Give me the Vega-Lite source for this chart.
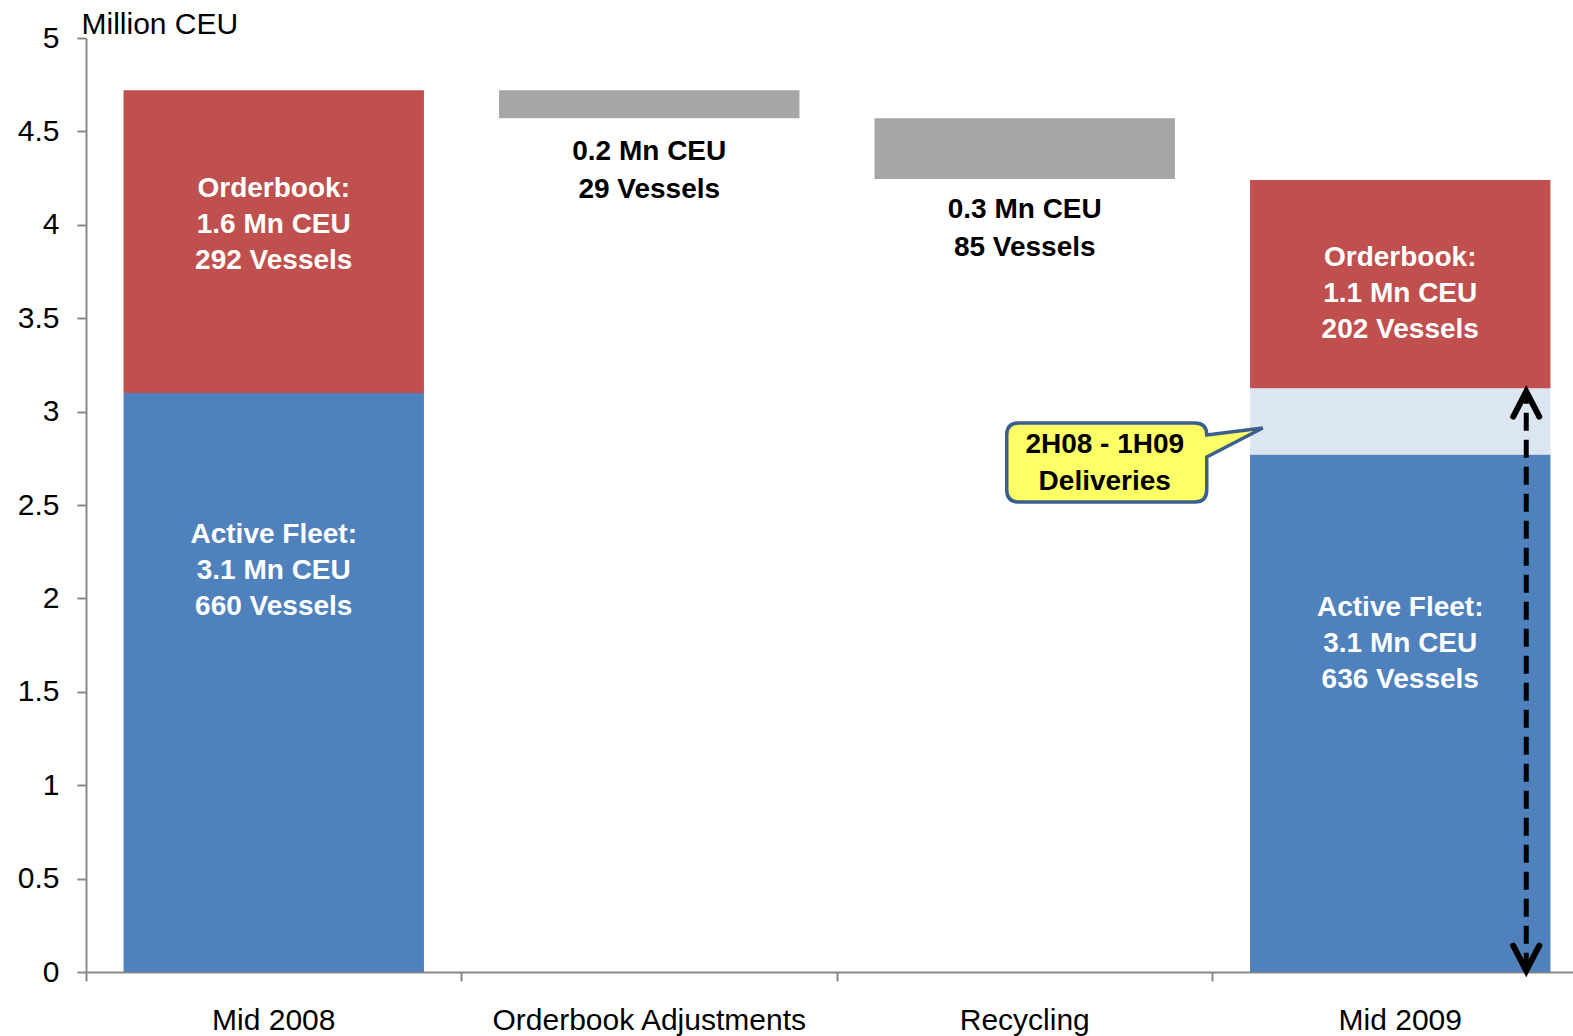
{
  "$schema": "https://vega.github.io/schema/vega-lite/v6.json",
  "width": 1487,
  "height": 934,
  "autosize": {"type": "none"},
  "padding": {"left": 86, "top": 38, "right": 0, "bottom": 64},
  "background": "white",
  "config": {"view": {"stroke": null}, "font": "Liberation Sans"},
  "datasets": {
    "bars": [
      {"category": "Mid 2008", "segment": "Active Fleet", "start": 0, "end": 3.10},
      {"category": "Mid 2008", "segment": "Orderbook", "start": 3.10, "end": 4.72},
      {"category": "Orderbook Adjustments", "segment": "Orderbook Adjustments", "start": 4.57, "end": 4.72},
      {"category": "Recycling", "segment": "Recycling", "start": 4.245, "end": 4.57},
      {"category": "Mid 2009", "segment": "Active Fleet", "start": 0, "end": 2.77},
      {"category": "Mid 2009", "segment": "Deliveries", "start": 2.77, "end": 3.125},
      {"category": "Mid 2009", "segment": "Orderbook", "start": 3.125, "end": 4.24}
    ],
    "insideLabels": [
      {"category": "Mid 2008", "value": 2.339, "text": ["Active Fleet:", "3.1 Mn CEU", "660 Vessels"]},
      {"category": "Mid 2008", "value": 4.192, "text": ["Orderbook:", "1.6 Mn CEU", "292 Vessels"]},
      {"category": "Mid 2009", "value": 3.822, "text": ["Orderbook:", "1.1 Mn CEU", "202 Vessels"]},
      {"category": "Mid 2009", "value": 1.949, "text": ["Active Fleet:", "3.1 Mn CEU", "636 Vessels"]}
    ],
    "outsideLabels": [
      {"category": "Orderbook Adjustments", "value": 4.392, "text": ["0.2 Mn CEU", "29 Vessels"]},
      {"category": "Recycling", "value": 4.079, "text": ["0.3 Mn CEU", "85 Vessels"]}
    ],
    "callout": [
      {"category": "Recycling", "value": 2.73, "text": ["2H08 - 1H09", "Deliveries"]}
    ],
    "arrow": [
      {"category": "Mid 2009", "lo": 0.007, "hi": 3.107}
    ]
  },
  "layer": [
    {
      "data": {"name": "bars"},
      "mark": {"type": "bar", "strokeWidth": 0},
      "encoding": {
        "x": {
          "field": "category", "type": "nominal", "sort": null,
          "scale": {"domain": ["Mid 2008", "Orderbook Adjustments", "Recycling", "Mid 2009"], "range": [0, 1502], "paddingInner": 0.2, "paddingOuter": 0.1},
          "axis": {
            "title": null, "labelAngle": 0, "labelFont": "Liberation Sans", "labelFontSize": 30, "labelColor": "black",
            "labelLimit": 0, "labelPadding": 24, "domainColor": "#898989", "domainWidth": 2,
            "tickColor": "#898989", "tickWidth": 2, "tickSize": 9, "bandPosition": -0.125
          }
        },
        "y": {
          "field": "start", "type": "quantitative",
          "scale": {"domain": [0, 5], "nice": false, "zero": true},
          "axis": {
            "title": "Million CEU", "titleAngle": 0, "titleAlign": "left", "titleBaseline": "alphabetic",
            "titleX": -5, "titleY": -5, "titleFont": "Liberation Sans", "titleFontSize": 30, "titleFontWeight": "normal", "titleColor": "black",
            "values": [0, 0.5, 1, 1.5, 2, 2.5, 3, 3.5, 4, 4.5, 5], "format": "~g", "grid": false,
            "labelFont": "Liberation Sans", "labelFontSize": 30, "labelColor": "black", "labelPadding": 18,
            "domainColor": "#898989", "domainWidth": 2, "tickColor": "#898989", "tickWidth": 2, "tickSize": 9
          }
        },
        "y2": {"field": "end"},
        "color": {
          "field": "segment", "type": "nominal", "legend": null,
          "scale": {"domain": ["Active Fleet", "Orderbook", "Orderbook Adjustments", "Recycling", "Deliveries"], "range": ["#4F81BD", "#C0504D", "#A6A6A6", "#A6A6A6", "#DCE6F2"]}
        }
      }
    },
    {
      "mark": {"type": "rule", "color": "black", "strokeWidth": 2},
      "encoding": {"y": {"datum": 5, "type": "quantitative", "title": "Million CEU"}}
    },
    {
      "data": {"name": "insideLabels"},
      "mark": {"type": "text", "color": "white", "fontWeight": "bold", "fontSize": 28, "lineHeight": 36, "align": "center", "baseline": "middle", "font": "Liberation Sans"},
      "encoding": {
        "x": {"field": "category", "type": "nominal", "sort": null, "title": null},
        "y": {"field": "value", "type": "quantitative", "title": "Million CEU"},
        "text": {"field": "text", "type": "nominal"}
      }
    },
    {
      "data": {"name": "outsideLabels"},
      "mark": {"type": "text", "color": "black", "fontWeight": "bold", "fontSize": 28, "lineHeight": 38, "align": "center", "baseline": "middle", "font": "Liberation Sans"},
      "encoding": {
        "x": {"field": "category", "type": "nominal", "sort": null, "title": null},
        "y": {"field": "value", "type": "quantitative", "title": "Million CEU"},
        "text": {"field": "text", "type": "nominal"}
      }
    },
    {
      "data": {"name": "callout"},
      "mark": {
        "type": "point", "filled": true, "opacity": 1, "fill": "#FFFF66", "fillOpacity": 1, "stroke": "#3A5F8E", "strokeWidth": 3.5, "size": 4,
        "shape": "M -6 -39 L 170 -39 Q 182 -39 182 -27 L 238 -34 L 182 -5 L 182 28 Q 182 40 170 40 L -6 40 Q -18 40 -18 28 L -18 -27 Q -18 -39 -6 -39 Z"
      },
      "encoding": {
        "x": {"field": "category", "type": "nominal", "sort": null, "title": null},
        "y": {"field": "value", "type": "quantitative", "title": "Million CEU"}
      }
    },
    {
      "data": {"name": "callout"},
      "mark": {"type": "text", "color": "black", "fontWeight": "bold", "fontSize": 28, "lineHeight": 37, "align": "center", "baseline": "middle", "dx": 80, "dy": -17, "font": "Liberation Sans"},
      "encoding": {
        "x": {"field": "category", "type": "nominal", "sort": null, "title": null},
        "y": {"field": "value", "type": "quantitative", "title": "Million CEU"},
        "text": {"field": "text", "type": "nominal"}
      }
    },
    {
      "data": {"name": "arrow"},
      "mark": {"type": "rule", "color": "black", "strokeWidth": 5, "strokeDash": [18, 9], "xOffset": 126},
      "encoding": {
        "x": {"field": "category", "type": "nominal", "sort": null, "title": null},
        "y": {"field": "lo", "type": "quantitative", "title": "Million CEU"},
        "y2": {"field": "hi"}
      }
    },
    {
      "data": {"name": "arrow"},
      "mark": {"type": "point", "filled": false, "opacity": 1, "stroke": "black", "strokeWidth": 6, "strokeCap": "round", "size": 2500, "xOffset": 126, "shape": "M -0.52 1 L 0 0 L 0.52 1"},
      "encoding": {
        "x": {"field": "category", "type": "nominal", "sort": null, "title": null},
        "y": {"field": "hi", "type": "quantitative", "title": "Million CEU"}
      }
    },
    {
      "data": {"name": "arrow"},
      "mark": {"type": "point", "filled": false, "opacity": 1, "stroke": "black", "strokeWidth": 6, "strokeCap": "round", "size": 2500, "xOffset": 126, "shape": "M -0.52 -1 L 0 0 L 0.52 -1"},
      "encoding": {
        "x": {"field": "category", "type": "nominal", "sort": null, "title": null},
        "y": {"field": "lo", "type": "quantitative", "title": "Million CEU"}
      }
    }
  ]
}
